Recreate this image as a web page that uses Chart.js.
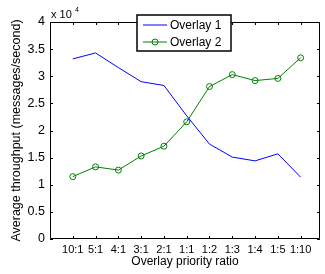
<!DOCTYPE html>
<html>
<head>
<meta charset="utf-8">
<script src="https://cdn.jsdelivr.net/npm/chart.js@4"></script>
<style>
  html, body { margin: 0; padding: 0; background: #fff; }
  #wrap { width: 325px; height: 274px; position: relative; }
</style>
</head>
<body>
<div id="wrap"><canvas id="chart"></canvas></div>
<script>
// categories and series (throughput in messages/second)
const ratios = ['10:1', '5:1', '4:1', '3:1', '2:1', '1:1', '1:2', '1:3', '1:4', '1:5', '1:10'];
const overlay1 = [33200, 34300, 31600, 29000, 28300, 22700, 17500, 15100, 14400, 15700, 11400];
const overlay2 = [11500, 13300, 12700, 15300, 17100, 21600, 28100, 30300, 29200, 29600, 33400];
const yTicks = [0, 5000, 10000, 15000, 20000, 25000, 30000, 35000, 40000];

const FONT = 'Liberation Sans, Arial, Helvetica, sans-serif';

// matlab style box, inner ticks, exponent label and legend
const matlabAxes = {
    id: 'matlabAxes',
    afterDraw(chart) {
        const ctx = chart.ctx;
        const a = chart.chartArea;
        const xs = chart.scales.x, ys = chart.scales.y;
        ctx.save();
        ctx.strokeStyle = '#000';
        ctx.lineWidth = 1;
        ctx.beginPath();
        ctx.rect(a.left + 0.5, a.top + 0.5, a.right - a.left - 1, a.bottom - a.top - 1);
        ctx.stroke();
        ctx.beginPath();
        xs.ticks.forEach(t => {
            const x = Math.round(xs.getPixelForValue(t.value)) + 0.5;
            ctx.moveTo(x, a.bottom); ctx.lineTo(x, a.bottom - 3);
            ctx.moveTo(x, a.top); ctx.lineTo(x, a.top + 3);
        });
        ys.ticks.forEach(t => {
            const y = Math.round(ys.getPixelForValue(t.value)) + 0.5;
            ctx.moveTo(a.left, y); ctx.lineTo(a.left + 3, y);
            ctx.moveTo(a.right, y); ctx.lineTo(a.right - 3, y);
        });
        ctx.stroke();

        // exponent
        ctx.fillStyle = '#000';
        ctx.textBaseline = 'alphabetic';
        ctx.textAlign = 'left';
        ctx.font = '11px ' + FONT;
        ctx.fillText('x 10', a.left + 1, a.top - 4);
        ctx.font = '7px ' + FONT;
        ctx.fillText('4', a.left + 25, a.top - 10);

        // legend
        const bx = 137, by = 15, bw = 94, bh = 36;
        ctx.fillStyle = '#fff';
        ctx.fillRect(bx, by, bw, bh);
        ctx.lineWidth = 1.5;
        ctx.strokeRect(bx, by, bw, bh);
        ctx.font = '12px ' + FONT;
        ctx.textBaseline = 'middle';
        chart.data.datasets.forEach((ds, i) => {
            const cy = by + 10 + i * 17;
            ctx.strokeStyle = ds.borderColor;
            ctx.lineWidth = 1;
            ctx.beginPath();
            ctx.moveTo(bx + 6, cy); ctx.lineTo(bx + 30, cy);
            ctx.stroke();
            if (ds.pointRadius > 0) {
                ctx.beginPath();
                ctx.arc(bx + 18, cy, ds.pointRadius, 0, Math.PI * 2);
                ctx.stroke();
            }
            ctx.fillStyle = '#000';
            ctx.fillText(ds.label, bx + 33, cy + 1);
        });
        ctx.restore();
    }
};

new Chart(document.getElementById('chart'), {
    type: 'line',
    data: {
        datasets: [
            {
                label: 'Overlay 1',
                data: overlay1.map((v, i) => ({ x: i + 1, y: v })),
                borderColor: '#0000ff',
                borderWidth: 1,
                pointRadius: 0,
                fill: false,
                tension: 0
            },
            {
                label: 'Overlay 2',
                data: overlay2.map((v, i) => ({ x: i + 1, y: v })),
                borderColor: '#008000',
                borderWidth: 1,
                pointRadius: 3,
                pointBorderWidth: 1,
                pointBackgroundColor: 'rgba(0,0,0,0)',
                pointBorderColor: '#008000',
                fill: false,
                tension: 0
            }
        ]
    },
    options: {
        responsive: true,
        maintainAspectRatio: false,
        animation: false,
        events: [],
        layout: { padding: { top: 22, right: 1, left: 0, bottom: 0 } },
        plugins: { legend: { display: false }, tooltip: { enabled: false } },
        scales: {
            x: {
                type: 'linear',
                min: 0,
                max: 11.85,
                afterBuildTicks: s => { s.ticks = ratios.map((r, i) => ({ value: i + 1 })); },
                afterFit: s => { s.height = 35; },
                grid: { display: false, drawTicks: false },
                border: { display: false },
                ticks: {
                    autoSkip: false,
                    maxRotation: 0,
                    padding: 4,
                    color: '#000',
                    font: { family: FONT, size: 11 },
                    callback: v => ratios[v - 1]
                },
                title: {
                    display: true,
                    text: 'Overlay priority ratio',
                    color: '#000',
                    font: { family: FONT, size: 12 },
                    padding: { top: 0, bottom: 5 }
                }
            },
            y: {
                min: 0,
                max: 40000,
                afterBuildTicks: s => { s.ticks = yTicks.map(v => ({ value: v })); },
                afterFit: s => { s.width = 50; },
                grid: { display: false, drawTicks: false },
                border: { display: false },
                ticks: {
                    padding: 5,
                    color: '#000',
                    font: { family: FONT, size: 12.5 },
                    callback: v => String(v / 10000)
                },
                title: {
                    display: true,
                    text: 'Average throughput (messages/second)',
                    color: '#000',
                    font: { family: FONT, size: 12.5 },
                    padding: { top: 9, bottom: 0 }
                }
            }
        }
    },
    plugins: [matlabAxes]
});
</script>
</body>
</html>
